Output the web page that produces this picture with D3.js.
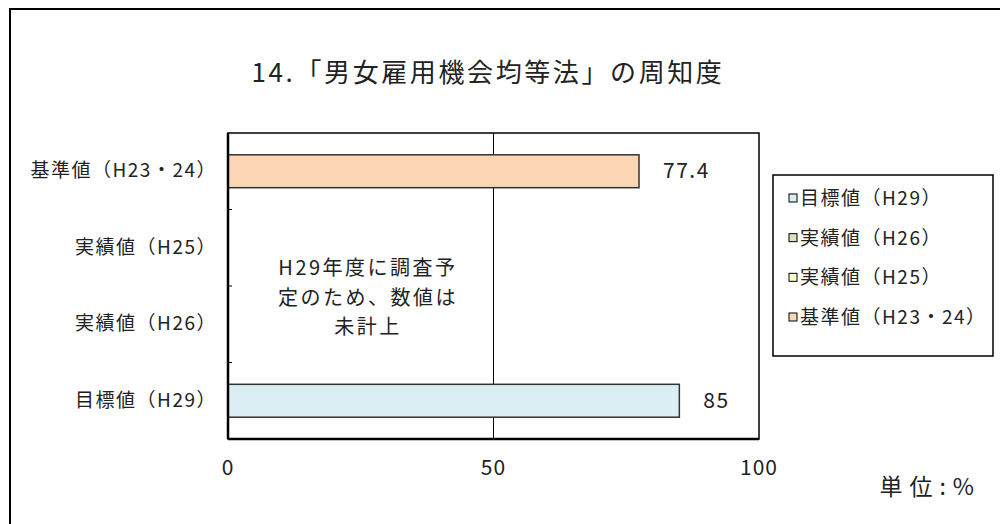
<!DOCTYPE html>
<html><head><meta charset="utf-8">
<script src="https://cdn.jsdelivr.net/npm/d3@7"></script>
<style>
html,body{margin:0;padding:0;background:#fff;}
svg{display:block;font-family:"Noto Sans CJK JP","Noto Sans",sans-serif;}
</style></head>
<body><svg id="c" width="1000" height="524"></svg>
<script>
const title = "14.「男女雇用機会均等法」の周知度";
const categories = ["基準値（H23・24）", "実績値（H25）", "実績値（H26）", "目標値（H29）"];
const values = [77.4, null, null, 85];
const colors = ["#FCD5B5", "#FFFFCC", "#D7E4BD", "#DBEEF4"];
const legendOrder = [3, 2, 1, 0];
const xTicks = [0, 50, 100];
const note = ["H29年度に調査予", "定のため、数値は", "未計上"];
const unitLabel = "単位:%";

const svg = d3.select("#c");
// outer frame
svg.append("rect").attr("x",10).attr("y",9).attr("width",1000).attr("height",520)
  .attr("fill","#fff").attr("stroke","#000").attr("stroke-width",2);

svg.append("text").attr("x",488).attr("y",82).attr("text-anchor","middle")
  .attr("font-size",26).attr("letter-spacing",2.6).attr("fill","#222").text(title);

const L=228, R=759, T=133, B=439;
const x = d3.scaleLinear().domain([0,100]).range([L,R]);
const y = d3.scaleBand().domain(categories).range([T,B]).paddingInner(0.57).paddingOuter(0.285);

// plot area
svg.append("rect").attr("x",L).attr("y",T).attr("width",R-L).attr("height",B-T)
  .attr("fill","#fff").attr("stroke","#000").attr("stroke-width",1.5);

// gridline at 50
svg.append("g").selectAll("line").data(xTicks.filter(d=>d>0&&d<100)).join("line")
  .attr("x1",d=>x(d)).attr("x2",d=>x(d)).attr("y1",T).attr("y2",B)
  .attr("stroke","#000").attr("stroke-width",1);

// bars
svg.append("g").selectAll("rect").data(categories.map((c,i)=>({c,v:values[i],col:colors[i]})).filter(d=>d.v!=null))
  .join("rect")
  .attr("x",x(0)).attr("y",d=>y(d.c)).attr("width",d=>x(d.v)-x(0)).attr("height",y.bandwidth())
  .attr("fill",d=>d.col).attr("stroke","#333").attr("stroke-width",1.5);

// value labels
svg.append("g").selectAll("text").data(categories.map((c,i)=>({c,v:values[i]})).filter(d=>d.v!=null))
  .join("text")
  .attr("x",d=>x(d.v)+24).attr("y",d=>y(d.c)+y.bandwidth()/2+7)
  .attr("font-size",21).attr("letter-spacing",1.5).attr("fill","#222").text(d=>d.v);

// category axis: ticks at band boundaries
const step = y.step();
const bounds = categories.slice(1).map(c=>y(c)-y.paddingInner()*step/2);
svg.append("g").selectAll("line").data(bounds).join("line")
  .attr("x1",L).attr("x2",L+4).attr("y1",d=>d).attr("y2",d=>d).attr("stroke","#000").attr("stroke-width",1);
// thicker left and bottom axes
svg.append("line").attr("x1",L).attr("x2",L).attr("y1",T).attr("y2",B).attr("stroke","#000").attr("stroke-width",2.5);
svg.append("line").attr("x1",L).attr("x2",R).attr("y1",B).attr("y2",B).attr("stroke","#000").attr("stroke-width",2.5);

svg.append("g").selectAll("text").data(categories).join("text")
  .attr("x",217).attr("y",d=>y(d)+y.bandwidth()/2+6)
  .attr("text-anchor","end").attr("font-size",19).attr("letter-spacing",1.5).attr("fill","#222").text(d=>d);

// x tick labels
svg.append("g").selectAll("text").data(xTicks).join("text")
  .attr("x",d=>x(d)).attr("y",475).attr("text-anchor","middle")
  .attr("font-size",21).attr("letter-spacing",1).attr("fill","#222").text(d=>d);

svg.append("text").attr("x",981).attr("y",495).attr("text-anchor","end")
  .attr("font-size",23).attr("letter-spacing",7).attr("fill","#222").text(unitLabel);

// note
svg.append("g").selectAll("text").data(note).join("text")
  .attr("x",368).attr("y",(d,i)=>[275,305,334][i]).attr("text-anchor","middle")
  .attr("font-size",20).attr("letter-spacing",2.5).attr("fill","#222").text(d=>d);

// legend
const lg = svg.append("g");
lg.append("rect").attr("x",773).attr("y",175).attr("width",220).attr("height",181)
  .attr("fill","#fff").attr("stroke","#000").attr("stroke-width",1.5);
const items = legendOrder.map(i=>({c:categories[i],col:colors[i]}));
const ly = d3.scalePoint().domain(items.map(d=>d.c)).range([198,317]);
lg.selectAll("rect.k").data(items).join("rect").attr("class","k")
  .attr("x",789).attr("y",d=>ly(d.c)-4).attr("width",8).attr("height",8)
  .attr("fill",d=>d.col).attr("stroke","#000").attr("stroke-width",1);
lg.selectAll("text").data(items).join("text")
  .attr("x",800).attr("y",d=>ly(d.c)+7).attr("font-size",19).attr("letter-spacing",1.5).attr("fill","#222").text(d=>d.c);
</script></body></html>
